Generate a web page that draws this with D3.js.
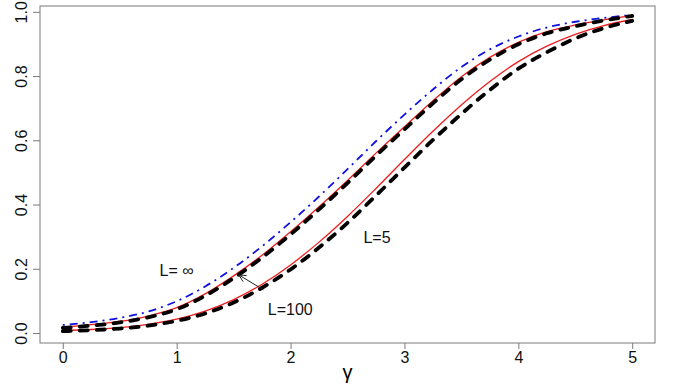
<!DOCTYPE html>
<html lang="en">
<head>
<meta charset="UTF-8">
<title>Power curves vs gamma</title>
<script src="https://d3js.org/d3.v7.min.js"></script>
<style>
  body { margin: 0; background: #fff; }
  svg { font-family: "Liberation Sans", Arial, sans-serif; }
  .frame { fill: none; stroke: #7a7a7a; stroke-width: 1; }
  .axis path { display: none; }
  .axis line { stroke: #7a7a7a; }
  .axis text { font-size: 16px; fill: #111; }
  .lab { font-size: 16px; fill: #111; }
</style>
</head>
<body>
<div id="chart"></div>
<script>
// gamma grid (x)
const gammas = [0, 0.25, 0.5, 0.75, 1, 1.25, 1.5, 1.75, 2, 2.25, 2.5, 2.75,
                3, 3.25, 3.5, 3.75, 4, 4.25, 4.5, 4.75, 5];

// L = infinity (blue dot-dash)
const lInf = [0.025, 0.034, 0.047, 0.067, 0.099, 0.145, 0.203, 0.270, 0.345, 0.425, 0.510,
              0.597, 0.680, 0.758, 0.828, 0.883, 0.923, 0.951, 0.969, 0.981, 0.990];
// L = 100, red solid and black dashed
const l100Red = [0.018, 0.026, 0.036, 0.053, 0.079, 0.122, 0.178, 0.242, 0.315, 0.393, 0.475,
                 0.560, 0.642, 0.723, 0.798, 0.858, 0.905, 0.938, 0.959, 0.975, 0.988];
const l100Blk = [0.016, 0.023, 0.033, 0.049, 0.074, 0.116, 0.171, 0.235, 0.307, 0.385, 0.467,
                 0.552, 0.634, 0.715, 0.790, 0.851, 0.899, 0.933, 0.955, 0.973, 0.987];
// L = 5, red solid and black dashed
const l5Red = [0.008, 0.011, 0.017, 0.027, 0.043, 0.068, 0.104, 0.152, 0.212, 0.283, 0.363,
               0.450, 0.540, 0.628, 0.710, 0.783, 0.845, 0.893, 0.930, 0.957, 0.976];
const l5Blk = [0.006, 0.009, 0.014, 0.023, 0.038, 0.061, 0.095, 0.141, 0.198, 0.266, 0.343,
               0.428, 0.515, 0.601, 0.682, 0.757, 0.823, 0.874, 0.917, 0.949, 0.972];

const xTicks = [0, 1, 2, 3, 4, 5];
const yTicks = [0, 0.2, 0.4, 0.6, 0.8, 1.0];

const width = 675, height = 385;

const svg = d3.select("#chart").append("svg")
    .attr("width", width)
    .attr("height", height);

const x = d3.scaleLinear().domain([-0.2, 5.2]).range([40, 655]);
const y = d3.scaleLinear().domain([-0.031, 1.018]).range([343, 6]);

// axes
svg.append("g")
    .attr("class", "axis")
    .attr("transform", "translate(0,343)")
    .call(d3.axisBottom(x).tickValues(xTicks).tickFormat(d3.format("d")).tickSize(6).tickSizeOuter(0))
    .selectAll("text")
    .attr("y", 0).attr("dy", 0)
    .attr("transform", "translate(0,20)");

svg.append("g")
    .attr("class", "axis")
    .attr("transform", "translate(40,0)")
    .call(d3.axisLeft(y).tickValues(yTicks).tickFormat(d3.format(".1f")).tickSize(7).tickSizeOuter(0))
    .selectAll("text")
    .attr("x", 0).attr("dy", 0)
    .attr("text-anchor", "middle")
    .attr("transform", "translate(-13,0) rotate(-90)");

svg.append("rect")
    .attr("class", "frame")
    .attr("x", 40).attr("y", 6)
    .attr("width", 615).attr("height", 337);

svg.append("text")
    .attr("x", x(2.5)).attr("y", 379)
    .attr("text-anchor", "middle")
    .style("font-size", "20px")
    .text("γ");

const line = d3.line()
    .x((d, i) => x(gammas[i]))
    .y(d => y(d))
    .curve(d3.curveMonotoneX);

svg.append("path").datum(lInf)
    .attr("d", line)
    .attr("fill", "none")
    .attr("stroke", "#1010e0")
    .attr("stroke-width", 1.8)
    .attr("stroke-dasharray", "2,5,8,5");

[l100Red, l5Red].forEach(s => {
  svg.append("path").datum(s)
      .attr("d", line)
      .attr("fill", "none")
      .attr("stroke", "#ee1c1c")
      .attr("stroke-width", 1.3);
});

[l100Blk, l5Blk].forEach(s => {
  svg.append("path").datum(s)
      .attr("d", line)
      .attr("fill", "none")
      .attr("stroke", "#000")
      .attr("stroke-width", 3.8)
      .attr("stroke-linecap", "round")
      .attr("stroke-dasharray", "8,9");
});

// labels
svg.append("text").attr("class", "lab")
    .attr("x", x(0.85)).attr("y", y(0.176))
    .text("L= \u221E");
svg.append("text").attr("class", "lab")
    .attr("x", x(1.80)).attr("y", y(0.057))
    .text("L=100");
svg.append("text").attr("class", "lab")
    .attr("x", x(2.64)).attr("y", y(0.281))
    .text("L=5");

// arrow from "L=100" to the L=100 curve
const tail = [x(1.76), y(0.135)], head = [x(1.545), y(0.181)];
svg.append("line")
    .attr("x1", tail[0]).attr("y1", tail[1])
    .attr("x2", head[0]).attr("y2", head[1])
    .attr("stroke", "#222").attr("stroke-width", 1);
const ang = Math.atan2(tail[1] - head[1], tail[0] - head[0]);
[-0.45, 0.45].forEach(a => {
  svg.append("line")
      .attr("x1", head[0]).attr("y1", head[1])
      .attr("x2", head[0] + 8 * Math.cos(ang + a))
      .attr("y2", head[1] + 8 * Math.sin(ang + a))
      .attr("stroke", "#222").attr("stroke-width", 1);
});
</script>
</body>
</html>
